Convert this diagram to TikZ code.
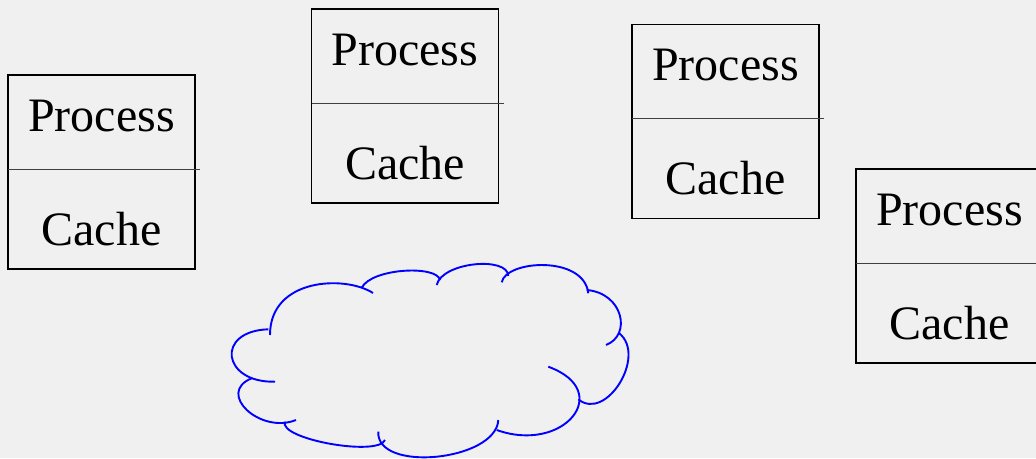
\documentclass[tikz,border=0pt]{standalone}
\usepackage{fontspec}
\setmainfont{Liberation Serif}
\usetikzlibrary{calc}
\definecolor{bgray}{RGB}{240,240,240}

\tikzset{
  cellbox/.style={draw=black, line width=1.8pt, minimum width=187pt, minimum height=194pt, inner sep=0pt, outer sep=0pt},
  celltext/.style={anchor=base, inner sep=0pt, font=\fontsize{48}{58}\selectfont},
  divider/.style={draw=black!75, line width=0.8pt},
  puff/.style={draw=blue, line width=1.9pt}
}

\begin{document}
\begin{tikzpicture}[x=1pt,y=-1pt]
        \useasboundingbox (0,0) rectangle (1036,458);
        \clip (0,0) rectangle (1036,458);
        \fill[bgray] (0,0) rectangle (1036,458);

        \node[cellbox] (b1) at (101.5,172)     {};
        \node[cellbox] (b2) at (405,106)     {};
        \node[cellbox] (b3) at (725.5,121.5)     {};
        \node[cellbox] (b4) at (949.5,266)     {};

        %process and cache texts
        \node[celltext] (p1) at ($(b1.center)+(0,-41)$) {Process};
        \node[celltext] (c1) at ($(b1.center)+(0,73)$) {Cache};
        \node[celltext] (p2) at ($(b2.center)+(0,-41)$) {Process};
        \node[celltext] (c2) at ($(b2.center)+(0,73)$) {Cache};
        \node[celltext] (p3) at ($(b3.center)+(0,-41)$) {Process};
        \node[celltext] (c3) at ($(b3.center)+(0,73)$) {Cache};
        \node[celltext] (p4) at ($(b4.center)+(0,-41)$) {Process};
        \node[celltext] (c4) at ($(b4.center)+(0,73)$) {Cache};

        %dividers
        \draw[divider] ([yshift=3pt]b1.west) -- ([xshift=5pt,yshift=3pt]b1.east);
        \draw[divider] ([yshift=3pt]b2.west) -- ([xshift=5pt,yshift=3pt]b2.east);
        \draw[divider] ([yshift=3pt]b3.west) -- ([xshift=5pt,yshift=3pt]b3.east);
        \draw[divider] ([yshift=3pt]b4.west) -- ([xshift=5pt,yshift=3pt]b4.east);

        %cloud
        \draw[puff] (270,335) .. controls (270,278) and (345,275) .. (373,293);
        \draw[puff] (361.7,287.7) .. controls (372,268) and (437,265) .. (440,280);
        \draw[puff] (436.7,285) .. controls (442,262) and (508,256) .. (508.3,276);
        \draw[puff] (501.7,282.3) .. controls (506,260) and (584,255) .. (588.3,293.3);
        \draw[puff] (586.7,290) .. controls (623,293) and (632,335) .. (606,345);
        \draw[puff] (619.3,333.3) .. controls (647,356) and (606,422) .. (578.3,399.3);
        \draw[puff] (548.3,366.7) .. controls (615,391) and (564,454) .. (496.7,430);
        \draw[puff] (498.3,420) .. controls (496,461) and (376,473) .. (378.3,431.7);
        \draw[puff] (385,440) .. controls (378,457) and (278,439) .. (285,421.7);
        \draw[puff] (296,420) .. controls (260,434.5) and (215.7,392.8) .. (251.7,378.3);
        \draw[puff] (275,381.7) .. controls (222,383) and (215,331) .. (268.3,329.3);
\end{tikzpicture}
\end{document}
